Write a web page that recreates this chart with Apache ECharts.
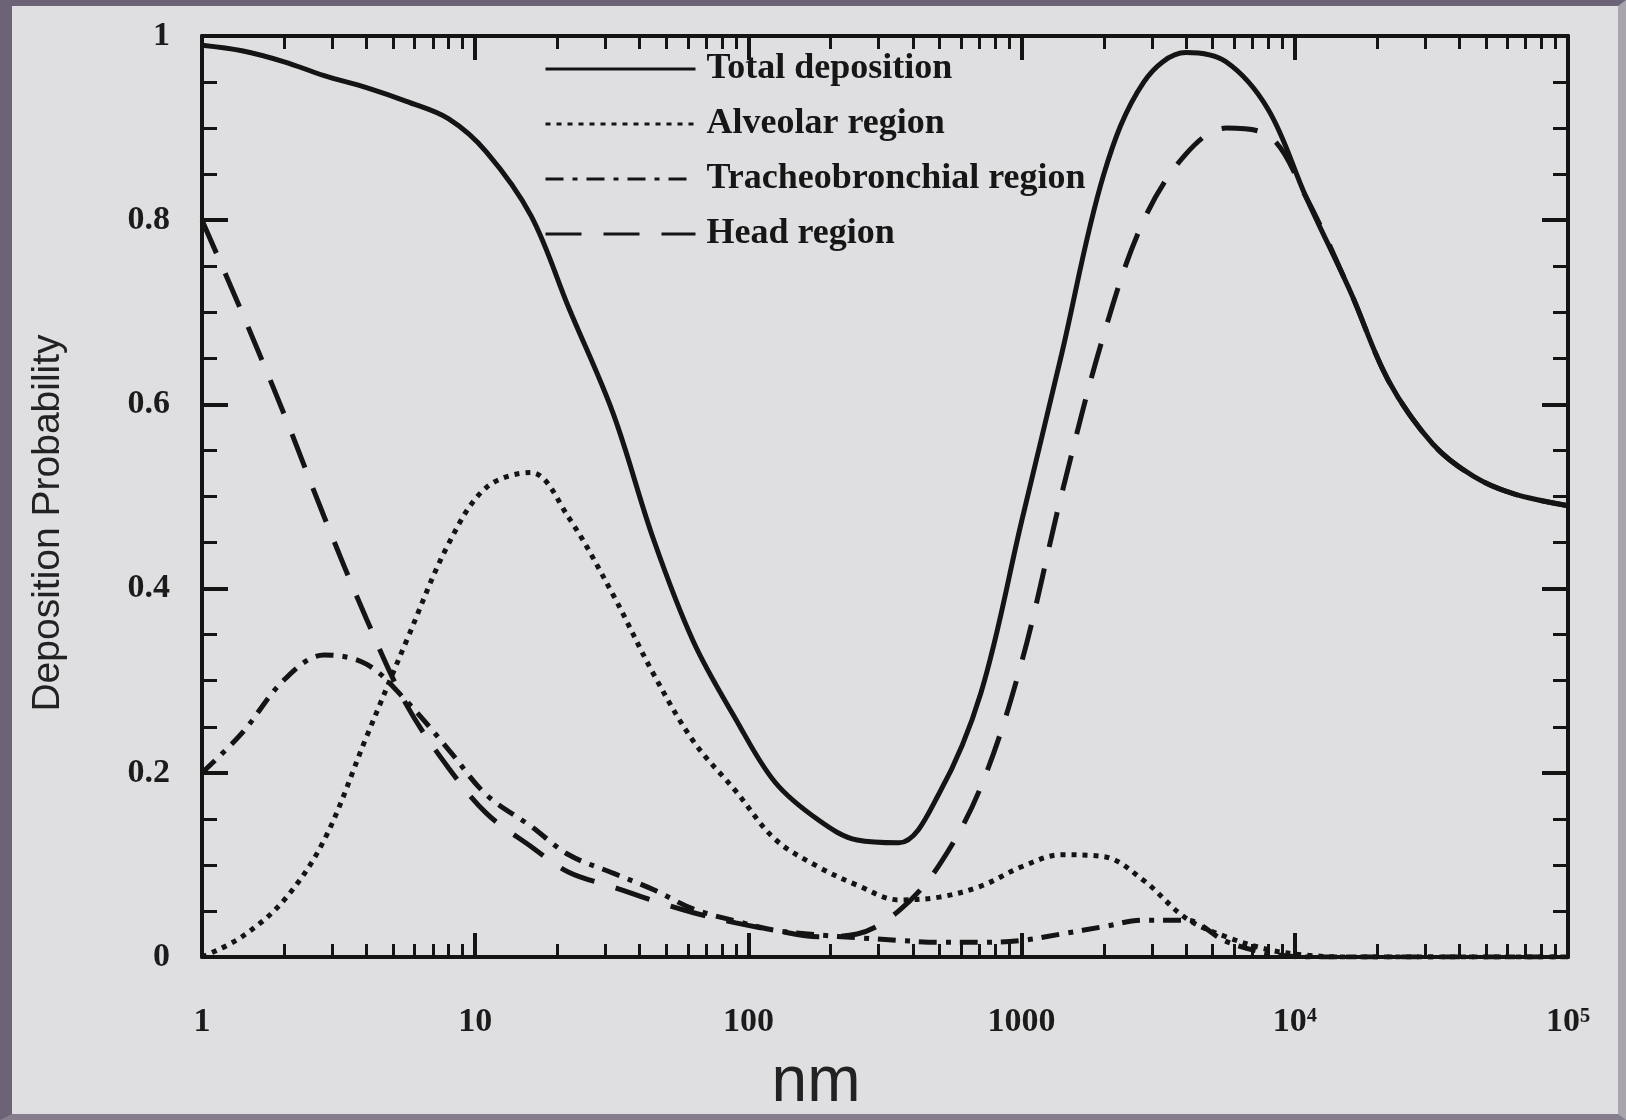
<!DOCTYPE html>
<html>
<head>
<meta charset="utf-8">
<title>Deposition probability</title>
<script src="https://cdn.jsdelivr.net/npm/echarts@6/dist/echarts.min.js"></script>
<style>
  html, body { margin: 0; padding: 0; background: #6f6679; }
  #frame {
    position: absolute; left: 0; top: 0; width: 1626px; height: 1120px;
    box-sizing: border-box;
    border-left: 12px solid #6c6376; border-top: 6px solid #6c6376;
    border-bottom: 6px solid #867e8c; border-right: 8px solid #a8a5ad;
    background: #dfdfe2;
  }
  #main { width: 1606px; height: 1108px; }
</style>
</head>
<body>
<div id="frame"><div id="main"></div></div>
<script>
// particle size, nm
var sizes = [1, 1.4, 2, 2.8, 4, 5.6, 8, 11, 16, 22, 32, 45, 63, 90, 125, 180, 250, 355, 500, 710,
  1000, 1400, 2000, 2800, 4000, 5600, 8000, 11000, 16000, 22000, 32000, 45000, 63000, 100000]

var total = [0.99, 0.984, 0.972, 0.957, 0.944, 0.929, 0.91, 0.874, 0.805, 0.705, 0.59, 0.453, 0.342, 0.258,
  0.19, 0.149, 0.127, 0.124, 0.178, 0.287, 0.473, 0.654, 0.85, 0.95, 0.982, 0.972, 0.92, 0.825, 0.722,
  0.626, 0.557, 0.522, 0.503, 0.49]
var alveolar = [0, 0.022, 0.062, 0.127, 0.239, 0.343, 0.449, 0.51, 0.526, 0.477, 0.393, 0.307, 0.234, 0.18,
  0.128, 0.098, 0.078, 0.062, 0.065, 0.077, 0.098, 0.111, 0.109, 0.083, 0.042, 0.022, 0.008, 0.002, 0,
  0, 0, 0, 0, 0]
var tracheo = [0.2, 0.243, 0.301, 0.328, 0.318, 0.278, 0.225, 0.176, 0.142, 0.111, 0.091, 0.073, 0.052, 0.039,
  0.029, 0.024, 0.021, 0.018, 0.016, 0.016, 0.018, 0.025, 0.033, 0.04, 0.04, 0.017, 0.004, 0, 0,
  0, 0, 0, 0, 0]
var head = [0.8, 0.7, 0.589, 0.478, 0.367, 0.274, 0.205, 0.156, 0.12, 0.092, 0.076, 0.061, 0.048, 0.037,
  0.029, 0.022, 0.025, 0.05, 0.1, 0.185, 0.32, 0.502, 0.676, 0.8, 0.872, 0.9, 0.892, 0.825, 0.722,
  0.626, 0.557, 0.522, 0.503, 0.49]

var names = ['Total deposition', 'Alveolar region', 'Tracheobronchial region', 'Head region']
var xTicks = [1, 10, 100, 1000, 10000, 100000]
var xTickLabels = ['1', '10', '100', '1000', '10\u2074', '10\u2075']
var yTicks = [0, 0.2, 0.4, 0.6, 0.8, 1]
var yTickLabels = ['0', '0.2', '0.4', '0.6', '0.8', '1']

// minor log ticks 2..9 in each decade
var xMinor = []
for (var d = 1; d < 100000; d *= 10) {
  for (var m = 2; m <= 9; m++) xMinor.push(d * m)
}

var ink = '#141414'
var serif = 'Liberation Serif'

function pairs(vals) {
  return sizes.map(function (s, i) { return [s, vals[i]] })
}

function xAx(pos, minor) {
  return {
    type: 'log', logBase: 10, min: 1, max: 100000, position: pos,
    axisLine: { show: !minor, onZero: false, lineStyle: { color: ink, width: 4 } },
    axisTick: {
      show: true, inside: true, length: minor ? 13 : 24,
      customValues: minor ? xMinor : xTicks,
      lineStyle: { color: ink, width: minor ? 3 : 4 }
    },
    axisLabel: {
      show: pos === 'bottom' && !minor, customValues: xTicks, margin: 48,
      fontFamily: serif, fontWeight: 'bold', fontSize: 34, color: '#1b1b1b',
      formatter: function (v) { return xTickLabels[xTicks.indexOf(v)] }
    },
    splitLine: { show: false }
  }
}

function yAx(pos) {
  return {
    type: 'value', min: 0, max: 1, interval: 0.2, position: pos,
    axisLine: { show: true, onZero: false, lineStyle: { color: ink, width: 4 } },
    axisTick: { show: true, inside: true, length: 26, lineStyle: { color: ink, width: 4 } },
    minorTick: { show: true, splitNumber: 4, length: 15, lineStyle: { color: ink, width: 3 } },
    axisLabel: {
      show: pos === 'left', margin: 32,
      fontFamily: serif, fontWeight: 'bold', fontSize: 34, color: '#1b1b1b',
      formatter: function (v) { return yTickLabels[yTicks.indexOf(Math.round(v * 10) / 10)] }
    },
    splitLine: { show: false }
  }
}

var styles = [
  { type: 'solid', width: 5 },
  { type: [5, 6], width: 5 },
  { type: [18, 9, 5, 9], width: 5 },
  { type: [36, 22], width: 5 }
]
var series = [total, alveolar, tracheo, head].map(function (vals, i) {
  return {
    name: names[i], type: 'line', data: pairs(vals), smooth: 0.35,
    symbol: 'none', xAxisIndex: 0, yAxisIndex: 0,
    itemStyle: { color: ink },
    lineStyle: { color: ink, width: styles[i].width, type: styles[i].type, cap: 'butt' },
    z: 4 - i
  }
})

var chart = echarts.init(document.getElementById('main'))
chart.setOption({
  backgroundColor: '#dfdfe2',
  animation: false,
  grid: { left: 190, top: 30, width: 1366, height: 921 },
  xAxis: [xAx('bottom', false), xAx('bottom', true), xAx('top', false), xAx('top', true)],
  yAxis: [yAx('left'), yAx('right')],
  legend: {
    data: names, orient: 'vertical', left: 527, top: 40,
    itemWidth: 150, itemHeight: 20, itemGap: 19,
    itemStyle: { opacity: 0 },
    lineStyle: { width: 3 },
    textStyle: { fontFamily: serif, fontWeight: 'bold', fontSize: 36, color: '#161616', padding: [0, 0, 0, 6] }
  },
  graphic: [
    {
      type: 'text', x: 804, y: 1077,
      style: { text: 'nm', font: '64px "Liberation Sans"', fill: '#222', textAlign: 'center', textVerticalAlign: 'middle' }
    },
    {
      type: 'text', x: 36, y: 517, rotation: Math.PI / 2,
      style: { text: 'Deposition Probability', font: '39px "Liberation Sans"', fill: '#222', textAlign: 'center', textVerticalAlign: 'middle' }
    }
  ],
  series: series
})
</script>
</body>
</html>
